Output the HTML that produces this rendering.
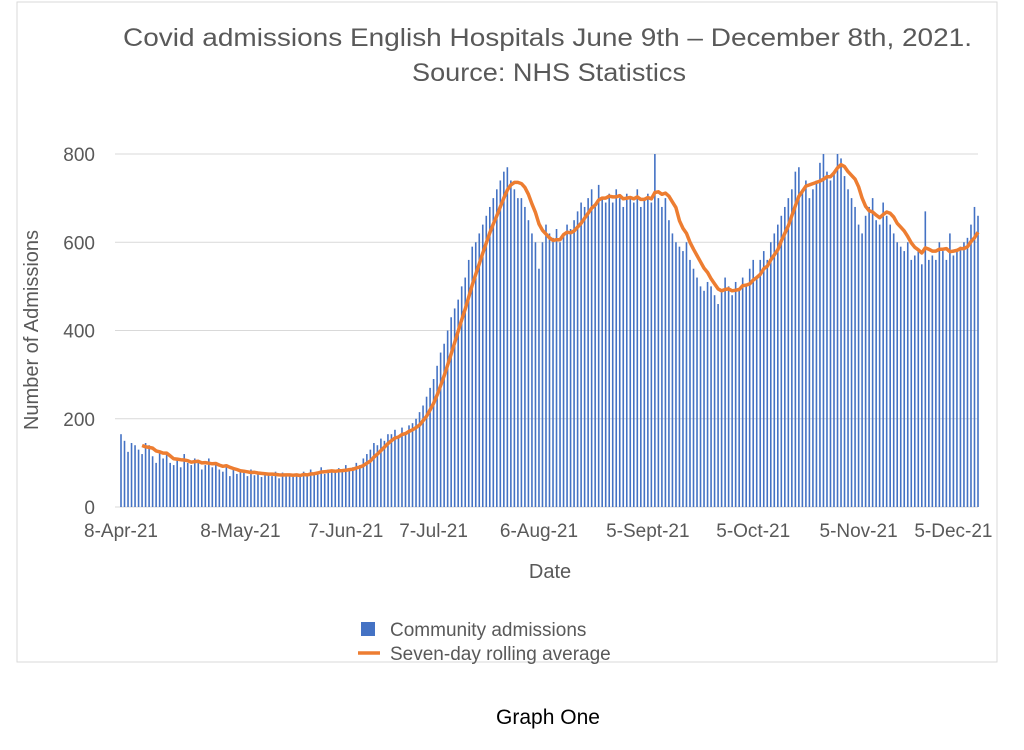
<!DOCTYPE html>
<html><head><meta charset="utf-8"><style>
body{margin:0;background:#fff;width:1024px;height:745px;overflow:hidden;font-family:"Liberation Sans",sans-serif}
</style></head><body>
<svg width="1024" height="745">
<rect x="17" y="2" width="980" height="660" fill="#fff" stroke="#d9d9d9"/>
<text x="123" y="46" textLength="849" lengthAdjust="spacingAndGlyphs" font-size="25" fill="#595959">Covid admissions English Hospitals June 9th – December 8th, 2021.</text>
<text x="412" y="81" textLength="274" lengthAdjust="spacingAndGlyphs" font-size="25" fill="#595959">Source: NHS Statistics</text>
<g id="grid"></g><g id="bars"></g><g id="line"></g><g id="axes"></g>
<text transform="translate(38,330) rotate(-90)" text-anchor="middle" font-size="20" fill="#595959">Number of Admissions</text>
<text x="550" y="578" text-anchor="middle" font-size="20" fill="#595959">Date</text>
<g>
<rect x="361" y="622" width="14" height="14" fill="#4472c4"/>
<text x="390" y="636" font-size="19" fill="#595959">Community admissions</text>
<line x1="358" y1="653" x2="380" y2="653" stroke="#ed7d31" stroke-width="3.5"/>
<text x="390" y="660" font-size="19" fill="#595959">Seven-day rolling average</text>
</g>
<text x="548" y="724" text-anchor="middle" font-size="21" fill="#000">Graph One</text>
</svg>
<script>
const admissions=[165,150,125,145,140,130,120,145,140,115,100,125,110,120,100,95,110,90,120,100,95,110,100,85,95,110,90,100,85,80,95,70,90,75,80,78,70,85,72,80,68,75,72,70,80,65,78,70,74,68,75,70,80,72,85,78,80,90,75,85,80,78,88,82,95,85,90,100,95,110,120,130,145,140,155,150,165,165,175,160,180,170,185,190,200,215,230,250,270,290,320,350,370,400,430,450,470,500,520,560,590,600,620,640,660,680,700,720,740,760,770,740,720,700,700,680,650,620,600,540,600,640,620,610,630,600,620,640,630,650,670,690,680,700,720,680,730,700,690,710,690,720,700,680,710,700,690,720,680,700,710,690,800,700,680,700,650,620,600,590,580,600,560,540,520,500,490,510,500,480,460,490,520,500,480,510,490,520,500,540,560,520,560,580,560,600,620,640,660,680,700,720,760,770,720,740,700,720,740,780,800,760,740,760,800,790,750,720,700,680,640,620,660,680,700,650,640,690,660,640,620,600,590,580,600,560,570,580,550,670,560,570,560,600,580,560,620,570,580,590,600,610,640,680,660];
const yTicks=[0,200,400,600,800];
const xTickLabels=["8-Apr-21","8-May-21","7-Jun-21","7-Jul-21","6-Aug-21","5-Sept-21","5-Oct-21","5-Nov-21","5-Dec-21"];
const xTickDays=[0,34,64,89,119,150,180,210,237];
const NS="http://www.w3.org/2000/svg";
const x0=121,x1=978,yBase=507,yTop=154;
const n=admissions.length;
const xs=d=>x0+d*(x1-x0)/(n-1);
const ys=v=>yBase-v*(yBase-yTop)/800;
function mk(t,a,p){const e=document.createElementNS(NS,t);for(const k in a)e.setAttribute(k,a[k]);document.getElementById(p).appendChild(e);return e;}
yTicks.forEach(v=>{
 const g=mk('line',{x1:115,x2:978,y1:ys(v),y2:ys(v),stroke:'#d9d9d9','stroke-width':1},'grid');
 
 
 const t=mk('text',{x:95,y:ys(v)+7,'text-anchor':'end','font-size':19,fill:'#595959'},'axes');
 t.textContent=v;
 
 
});
admissions.forEach((v,i)=>{
 const b=mk('rect',{x:xs(i)-0.8,y:ys(v),width:1.6,height:yBase-ys(v),fill:'#4472c4'},'bars');
 
 
});
let pts=[];
for(let i=6;i<n;i++){let s=0;for(let j=i-6;j<=i;j++)s+=admissions[j];pts.push(xs(i).toFixed(1)+','+ys(s/7).toFixed(1));}
const pl=mk('polyline',{points:pts.join(' '),fill:'none',stroke:'#ed7d31','stroke-width':3.5,'stroke-linejoin':'round'},'line');


xTickLabels.forEach((l,i)=>{
 const t=mk('text',{x:xs(xTickDays[i]),y:537,'text-anchor':'middle','font-size':19,fill:'#595959'},'axes');
 t.textContent=l;
 
 
});
</script>
</body></html>
